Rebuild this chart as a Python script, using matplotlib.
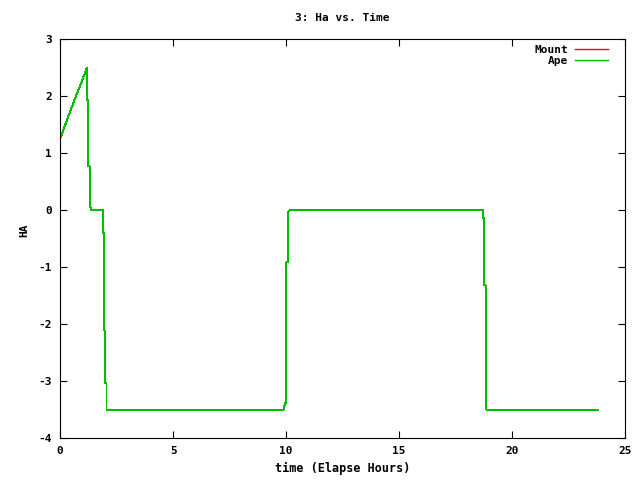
import numpy as np
import matplotlib.pyplot as plt

# time (elapsed hours) and hour angle vertices
time = [0.0, 0.3, 0.6, 0.9, 1.19, 1.19, 1.25, 1.25, 1.3, 1.3, 1.37, 1.89, 1.89, 1.93, 1.93,
        1.96, 1.96, 2.0, 2.0, 2.05, 2.05, 9.88, 9.95, 9.98, 9.98, 10.01, 10.01, 10.06, 10.06,
        10.15, 18.69, 18.69, 18.73, 18.73, 18.77, 18.77, 18.82, 18.82, 18.86, 18.86, 23.8]
mount_ha = [1.25, 1.58, 1.9, 2.2, 2.5, 1.93, 1.93, 0.77, 0.77, 0.13, 0.0, 0.0, -0.4, -0.4, -1.24,
            -1.24, -2.12, -2.12, -3.03, -3.03, -3.5, -3.5, -3.39, -3.39, -2.57, -2.57, -0.92, -0.92, -0.05,
            0.0, 0.0, -0.14, -0.14, -0.44, -0.44, -1.32, -1.32, -2.78, -2.78, -3.5, -3.5]
ape_ha = [1.25, 1.58, 1.9, 2.2, 2.5, 1.93, 1.93, 0.77, 0.77, 0.13, 0.0, 0.0, -0.4, -0.4, -1.24,
          -1.24, -2.12, -2.12, -3.03, -3.03, -3.5, -3.5, -3.39, -3.39, -2.57, -2.57, -0.92, -0.92, -0.05,
          0.0, 0.0, -0.14, -0.14, -0.44, -0.44, -1.32, -1.32, -2.78, -2.78, -3.5, -3.5]

plt.rcParams['font.family'] = ['DejaVu Sans Mono']
plt.rcParams['font.weight'] = 'bold'
plt.rcParams['axes.unicode_minus'] = False

fig = plt.figure(figsize=(6.4, 4.8), dpi=100)
ax = fig.add_axes([0.094, 0.0875, 0.883, 0.831])

# no antialiasing, like gnuplot's png terminal
ax.plot(time, mount_ha, color='#ff0000', lw=0.72, antialiased=False, label='Mount')
ax.plot(time, ape_ha, color='#00c000', lw=0.72, antialiased=False, label='Ape')

ax.set_xlim(0, 25)
ax.set_ylim(-4, 3)
ax.set_xticks([0, 5, 10, 15, 20, 25])
ax.set_yticks([-4, -3, -2, -1, 0, 1, 2, 3])
ax.tick_params(direction='in', top=True, right=True, length=5, width=0.8,
               labelsize=8, pad=6)
for s in ax.spines.values():
    s.set_linewidth(0.8)

ax.set_title('3: Ha vs. Time', fontsize=8, fontweight='bold', pad=13)
ax.set_xlabel('time (Elapse Hours)', fontsize=8.5, fontweight='bold', labelpad=4)
ax.set_ylabel('HA', fontsize=8, fontweight='bold')
ax.yaxis.set_label_coords(-0.055, 0.52)

leg = ax.legend(loc='upper right', bbox_to_anchor=(0.984, 1.005), frameon=False,
                markerfirst=False, handlelength=3.0, handletextpad=0.6, labelspacing=0.1,
                borderaxespad=0.3, prop={'weight': 'bold', 'size': 8})
for h in leg.get_lines():
    h.set_linewidth(1.0)

fig.savefig('out.png', dpi=100)
